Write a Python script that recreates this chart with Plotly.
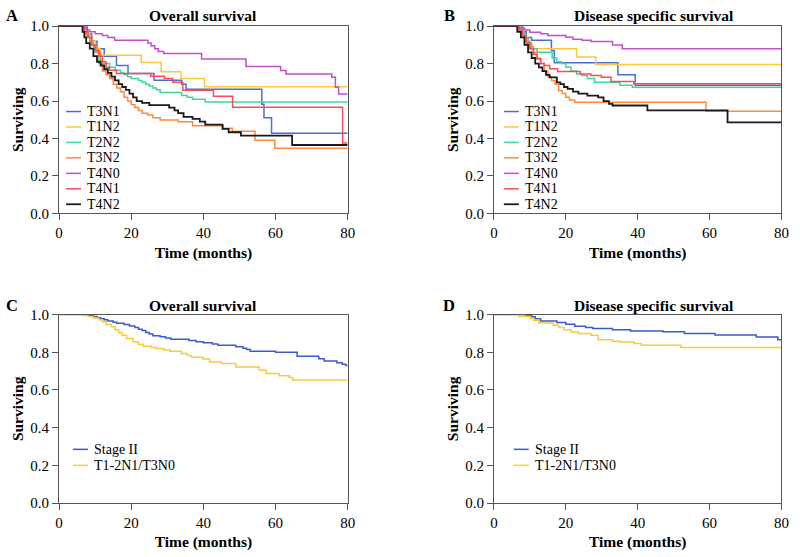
import plotly.graph_objects as go

# ---------------- data (step-change times in months, survival after step) ----------------
groups_ab = ["T3N1", "T1N2", "T2N2", "T3N2", "T4N0", "T4N1", "T4N2"]
colors_ab = ["#4a6fd0", "#fdc83a", "#3dd6a0", "#fb8a3c", "#c44fcc", "#fb4b55", "#1a1a1a"]

# Panel A – Overall survival
A_T3N1_t = [0, 7.8, 9, 10.5, 12.5, 15.9, 19.1, 26.3, 34, 35.2, 56.2, 56.8, 58.9, 80]
A_T3N1_s = [1, 0.96, 0.92, 0.88, 0.84, 0.79, 0.747, 0.711, 0.69, 0.663, 0.583, 0.51, 0.428, 0.428]
A_T1N2_t = [0, 7, 8.5, 10, 11.3, 22.8, 28.3, 33.8, 40.3, 80]
A_T1N2_s = [1, 0.96, 0.92, 0.88, 0.845, 0.806, 0.756, 0.72, 0.676, 0.676]
A_T2N2_t = [0, 7, 8, 9, 10, 11, 14, 15.5, 17, 18, 19, 20, 22, 23, 24, 25, 26, 27, 28, 34, 35.5, 37, 40.5, 80]
A_T2N2_s = [1, 0.97, 0.94, 0.9, 0.86, 0.8, 0.78, 0.765, 0.75, 0.74, 0.73, 0.72, 0.71, 0.70, 0.69, 0.68,
            0.67, 0.66, 0.645, 0.63, 0.62, 0.61, 0.595, 0.595]
A_T3N2_t = [0, 6.5, 7.5, 8.5, 9.5, 10.5, 11.5, 12, 13, 14, 15, 16, 17, 18, 19, 20, 21, 22, 23, 24.5, 26,
            28, 33, 37, 45.5, 48, 54.3, 59.8, 80]
A_T3N2_s = [1, 0.97, 0.95, 0.92, 0.89, 0.86, 0.82, 0.76, 0.74, 0.72, 0.69, 0.67, 0.65, 0.62, 0.60, 0.58,
            0.565, 0.55, 0.535, 0.525, 0.51, 0.498, 0.489, 0.468, 0.454, 0.438, 0.39, 0.347, 0.347]
A_T4N0_t = [0, 6.5, 7.5, 8.5, 10, 12, 13.5, 15.4, 24.6, 25.5, 26.5, 27.5, 29, 39.5, 51.8, 61.4, 62.9,
            75.6, 76.6, 77.5, 80]
A_T4N0_s = [1, 0.99, 0.98, 0.97, 0.96, 0.95, 0.94, 0.925, 0.91, 0.895, 0.88, 0.865, 0.854, 0.825, 0.784,
            0.763, 0.745, 0.727, 0.674, 0.638, 0.638]
A_T4N1_t = [0, 7, 8, 9, 10, 11, 12, 13, 14, 15.9, 25.4, 29.2, 31.5, 34.3, 42.8, 48.1, 78.6, 80]
A_T4N1_s = [1, 0.97, 0.94, 0.9, 0.87, 0.84, 0.81, 0.78, 0.765, 0.747, 0.733, 0.72, 0.70, 0.658, 0.625,
            0.567, 0.375, 0.375]
A_T4N2_t = [0, 6.5, 7, 7.5, 8.5, 9.5, 10.5, 11.5, 12.5, 13.5, 14.5, 15.5, 16.5, 17.5, 18.5, 19.5, 20.5,
            21.5, 23, 25, 30.5, 32, 33, 34.5, 37, 39, 40.5, 45.3, 47, 50.4, 64.6, 80]
A_T4N2_s = [1, 0.97, 0.94, 0.91, 0.88, 0.84, 0.81, 0.79, 0.77, 0.75, 0.73, 0.71, 0.69, 0.675, 0.66, 0.64,
            0.62, 0.60, 0.59, 0.578, 0.565, 0.55, 0.535, 0.515, 0.505, 0.49, 0.474, 0.451, 0.433, 0.415,
            0.365, 0.365]

# Panel B – Disease specific survival
B_T3N1_t = [0, 8, 9, 10.5, 16, 16.8, 34.5, 39.3, 80]
B_T3N1_s = [1, 0.97, 0.94, 0.925, 0.87, 0.804, 0.74, 0.685, 0.685]
B_T1N2_t = [0, 7.5, 8.5, 10, 23, 28.3, 80]
B_T1N2_s = [1, 0.96, 0.92, 0.88, 0.836, 0.795, 0.795]
B_T2N2_t = [0, 7.5, 8.5, 9.5, 10.5, 12, 16.2, 17.5, 18.8, 20, 21.5, 23, 24.4, 26, 28, 35, 38.5, 80]
B_T2N2_s = [1, 0.97, 0.94, 0.91, 0.88, 0.861, 0.83, 0.81, 0.8, 0.78, 0.76, 0.745, 0.736, 0.72, 0.70,
            0.685, 0.674, 0.674]
B_T3N2_t = [0, 7, 8, 9, 10, 11, 12, 13, 14, 15, 16, 17, 18, 19, 20, 21, 22.5, 59, 80]
B_T3N2_s = [1, 0.97, 0.95, 0.92, 0.89, 0.86, 0.83, 0.80, 0.76, 0.73, 0.71, 0.69, 0.655, 0.64, 0.62,
            0.605, 0.594, 0.546, 0.546]
B_T4N0_t = [0, 7, 8.5, 10, 13, 15, 20, 22, 24.5, 27, 33, 35.7, 80]
B_T4N0_s = [1, 0.99, 0.98, 0.968, 0.96, 0.95, 0.941, 0.93, 0.925, 0.918, 0.9, 0.879, 0.879]
B_T4N1_t = [0, 7, 8, 9, 10, 11, 12, 13, 14, 15.5, 17.7, 24, 27, 29.9, 32.6, 38.9, 80]
B_T4N1_s = [1, 0.98, 0.95, 0.91, 0.88, 0.85, 0.825, 0.80, 0.79, 0.772, 0.758, 0.745, 0.737, 0.727,
            0.704, 0.692, 0.692]
B_T4N2_t = [0, 6.5, 7.5, 8.5, 9.5, 10.5, 11.5, 12.5, 13.5, 14.5, 15.5, 17.5, 18.5, 19.5, 20.5, 22, 23.5,
            26, 29, 30.5, 32, 33, 42.7, 65, 80]
B_T4N2_s = [1, 0.97, 0.94, 0.9, 0.86, 0.83, 0.8, 0.78, 0.76, 0.74, 0.727, 0.70, 0.69, 0.675, 0.665, 0.65,
            0.64, 0.629, 0.62, 0.60, 0.585, 0.576, 0.55, 0.486, 0.486]

groups_cd = ["Stage II", "T1-2N1/T3N0"]
colors_cd = ["#3a5cc8", "#fcc93a"]

# Panel C – Overall survival
C_S2_t = [0, 8, 9.5, 10.5, 11.5, 12.5, 13.5, 15, 16, 18, 19.5, 21, 22, 23, 24, 25, 26, 28, 29.5, 31, 36,
          38, 40, 42.5, 44, 49, 51, 52, 53, 60, 66, 72, 73.5, 77, 78.5, 79.5, 80]
C_S2_s = [1, 0.995, 0.99, 0.985, 0.978, 0.972, 0.966, 0.96, 0.954, 0.948, 0.94, 0.932, 0.922, 0.915,
          0.905, 0.897, 0.888, 0.882, 0.876, 0.869, 0.862, 0.856, 0.85, 0.844, 0.837, 0.83, 0.822, 0.815,
          0.806, 0.80, 0.779, 0.766, 0.754, 0.745, 0.737, 0.73, 0.73]
C_T12_t = [0, 6.5, 8, 9.5, 11, 12, 13, 14.5, 15.5, 16.5, 17.5, 18.7, 20.5, 22, 23.3, 25.5, 27, 29, 30.7,
           33.9, 35.5, 36.6, 39.9, 41.7, 45, 49, 55.5, 57.4, 61, 63.8, 64.7, 80]
C_T12_s = [1, 0.995, 0.99, 0.982, 0.972, 0.962, 0.948, 0.935, 0.92, 0.905, 0.89, 0.873, 0.855, 0.842,
           0.832, 0.826, 0.82, 0.812, 0.805, 0.793, 0.783, 0.774, 0.765, 0.749, 0.74, 0.722, 0.704, 0.687,
           0.676, 0.666, 0.653, 0.653]

# Panel D – Disease specific survival
D_S2_t = [0, 9, 10.5, 11.5, 13, 17.5, 20, 22.5, 25.5, 27.5, 33, 38, 47, 53, 61.5, 73, 79, 80]
D_S2_s = [1, 0.995, 0.988, 0.978, 0.966, 0.958, 0.949, 0.938, 0.932, 0.926, 0.92, 0.913, 0.909, 0.90,
          0.892, 0.881, 0.867, 0.862]
D_T12_t = [0, 7, 10, 11, 12.5, 16.5, 18, 19.5, 21.5, 23.5, 27, 29, 33, 35, 39, 41, 52, 80]
D_T12_s = [1, 0.99, 0.979, 0.97, 0.956, 0.943, 0.931, 0.92, 0.908, 0.9, 0.89, 0.867, 0.858, 0.855,
           0.846, 0.837, 0.825, 0.825]

x_ticks = [0, 20, 40, 60, 80]
y_ticks = [0.0, 0.2, 0.4, 0.6, 0.8, 1.0]
panel_titles = ["Overall survival", "Disease specific survival", "Overall survival", "Disease specific survival"]
panel_letters = ["A", "B", "C", "D"]

# ---------------- figure ----------------
W, H = 800, 557
FONT = "Liberation Serif"

# target pixel positions are given in picture coordinates; map them to page coordinates
SX, OX = 0.99, 3.6
SY, OY = 0.971, 7.8

def px(x):
    return ((x - OX) / SX) / W

def py(y):
    return 1 - ((y - OY) / SY) / H

fig = go.Figure()

panels = [
    ("x", "y", [(A_T3N1_t, A_T3N1_s), (A_T1N2_t, A_T1N2_s), (A_T2N2_t, A_T2N2_s), (A_T3N2_t, A_T3N2_s),
                (A_T4N0_t, A_T4N0_s), (A_T4N1_t, A_T4N1_s), (A_T4N2_t, A_T4N2_s)], groups_ab, colors_ab),
    ("x2", "y2", [(B_T3N1_t, B_T3N1_s), (B_T1N2_t, B_T1N2_s), (B_T2N2_t, B_T2N2_s), (B_T3N2_t, B_T3N2_s),
                  (B_T4N0_t, B_T4N0_s), (B_T4N1_t, B_T4N1_s), (B_T4N2_t, B_T4N2_s)], groups_ab, colors_ab),
    ("x3", "y3", [(C_S2_t, C_S2_s), (C_T12_t, C_T12_s)], groups_cd, colors_cd),
    ("x4", "y4", [(D_S2_t, D_S2_s), (D_T12_t, D_T12_s)], groups_cd, colors_cd),
]

for xa, ya, series, names, cols in panels:
    for (t, s), name, c in zip(series, names, cols):
        fig.add_trace(go.Scatter(
            x=t, y=s, mode="lines", line=dict(shape="hv", color=c, width=1.8 if c == "#1a1a1a" else 1.5),
            name=name, showlegend=False, xaxis=xa, yaxis=ya, hoverinfo="skip"))

# plot areas in pixels: (left, right, top, bottom)
boxes = [(59, 349, 26, 213), (496, 785, 26, 213), (59, 349, 314.3, 502.7), (496, 785, 314.3, 502.7)]

axis_common = dict(
    showline=True, linecolor="#555555", linewidth=1, mirror=True, ticks="outside", ticklen=6,
    tickcolor="#555555", showgrid=False, zeroline=False,
    tickfont=dict(family=FONT, size=15, color="black"),
)

layout = dict(width=W, height=H, margin=dict(l=0, r=0, t=0, b=0), plot_bgcolor="white",
              paper_bgcolor="white", showlegend=False)
for i, (l, r, t, b) in enumerate(boxes):
    sx = "" if i == 0 else str(i + 1)
    layout["xaxis" + sx] = dict(
        axis_common, domain=[px(l), px(r)], range=[0, 80], tickvals=x_ticks,
        anchor="y" + sx,
        title=dict(text="Time (months)", font=dict(family=FONT, size=15.5, color="black", weight="bold"),
                   standoff=6))
    layout["yaxis" + sx] = dict(
        axis_common, domain=[py(b), py(t)], range=[0, 1], tickvals=y_ticks, tickformat=".1f",
        anchor="x" + sx,
        title=dict(text="Surviving", font=dict(family=FONT, size=15.5, color="black", weight="bold"),
                   standoff=2))
fig.update_layout(**layout)

annotations = []
shapes = []
title_x = [204, 657, 204, 657]
title_y = [15, 15, 305, 305]
letter_x = [12, 451, 12, 451]
for i in range(4):
    annotations.append(dict(text=panel_titles[i], x=px(title_x[i]), y=py(title_y[i]), xref="paper",
                            yref="paper", showarrow=False, xanchor="center", yanchor="middle",
                            font=dict(family=FONT, size=15.5, color="black", weight="bold")))
    annotations.append(dict(text=panel_letters[i], x=px(letter_x[i]), y=py(title_y[i]), xref="paper",
                            yref="paper", showarrow=False, xanchor="center", yanchor="middle",
                            font=dict(family=FONT, size=16.5, color="black", weight="bold")))

# legends (line swatch + label), positioned inside each panel
legend_specs = [
    (groups_ab, colors_ab, 66, 111.3, 15.45),
    (groups_ab, colors_ab, 506, 111.3, 15.45),
    (groups_cd, colors_cd, 73, 449, 16),
    (groups_cd, colors_cd, 516, 449, 16),
]
for names, cols, lx, ly0, dy in legend_specs:
    for j, (name, c) in enumerate(zip(names, cols)):
        yy = ly0 + j * dy
        shapes.append(dict(type="line", xref="paper", yref="paper", x0=px(lx), x1=px(lx + 15),
                           y0=py(yy), y1=py(yy), line=dict(color=c, width=1.8 if c == "#1a1a1a" else 1.5)))
        annotations.append(dict(text=name, x=px(lx + 19), y=py(yy), xref="paper", yref="paper",
                                showarrow=False, xanchor="left", yanchor="middle",
                                font=dict(family=FONT, size=14, color="black")))

fig.update_layout(annotations=annotations, shapes=shapes)
fig.write_html(
    "out.html",
    config={"displayModeBar": False},
    post_script=(
        "document.documentElement.style.margin='0';document.documentElement.style.padding='0';"
        "document.body.style.margin='0';document.body.style.padding='0';document.body.style.overflow='hidden';"
    ),
)
